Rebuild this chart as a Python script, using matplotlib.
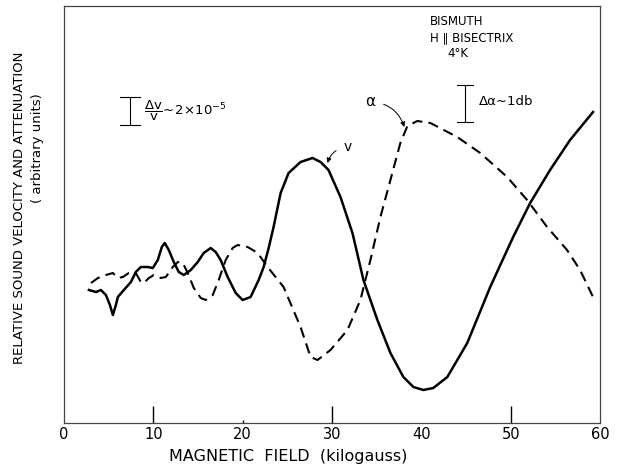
import numpy as np
import matplotlib.pyplot as plt

plt.rcParams["font.family"] = "DejaVu Sans"
plt.rcParams["mathtext.fontset"] = "dejavusans"

# velocity curve v (solid), field in kilogauss, arbitrary units
v_field = [2.79, 3.58, 4.13, 4.69, 5.14, 5.47, 5.81, 6.03, 6.70, 7.49, 8.04, 8.60,
           9.39, 9.94, 10.50, 10.95, 11.28, 11.73, 12.29, 12.85, 13.41, 14.19, 14.97,
           15.64, 16.42, 16.98, 17.54, 18.32, 19.22, 20.00, 20.89, 21.79, 22.35, 22.91,
           23.46, 24.25, 25.14, 26.48, 27.82, 28.72, 29.61, 30.95, 32.29, 33.52, 35.08,
           36.54, 37.99, 39.11, 40.22, 41.34, 42.91, 45.14, 47.71, 50.28, 52.18, 54.41,
           56.65, 59.22]
v_vals = [14.0, 13.8, 14.0, 13.5, 12.5, 11.5, 12.5, 13.3, 14.0, 14.8, 15.8, 16.3,
          16.3, 16.2, 17.0, 18.3, 18.7, 18.0, 16.8, 15.8, 15.5, 16.0, 16.8,
          17.7, 18.2, 17.8, 17.0, 15.3, 13.7, 13.0, 13.3, 15.0, 16.3, 18.2,
          20.3, 23.7, 25.7, 26.8, 27.2, 26.8, 26.0, 23.3, 19.7, 15.0, 11.0,
          7.7, 5.3, 4.3, 4.0, 4.2, 5.3, 8.7, 14.3, 19.3, 22.7, 26.0,
          29.0, 31.8]

# attenuation curve alpha (dashed)
a_field = [3.02, 3.80, 4.69, 5.47, 6.03, 6.59, 7.26, 8.04, 8.60, 8.94, 9.50, 10.06,
           10.84, 11.40, 12.18, 12.74, 13.30, 13.85, 14.53, 15.31, 15.87, 16.65, 17.32,
           18.10, 18.88, 19.44, 20.56, 21.68, 22.79, 24.58, 26.48, 27.60, 28.38, 29.83,
           31.73, 33.18, 34.30, 35.42, 36.54, 37.65, 38.44, 39.55, 41.01, 44.02, 46.59,
           49.61, 51.84, 54.08, 56.31, 57.77, 59.22]
a_vals = [14.7, 15.2, 15.5, 15.7, 15.2, 15.3, 15.7, 15.7, 14.8, 14.7, 15.2, 15.5,
          15.2, 15.3, 16.3, 16.8, 16.7, 15.7, 14.2, 13.2, 13.0, 13.5, 15.0,
          17.0, 18.2, 18.5, 18.3, 17.7, 16.3, 14.3, 10.3, 7.3, 7.0, 8.0,
          10.0, 13.0, 17.0, 21.3, 25.0, 28.7, 30.4, 30.9, 30.7, 29.3, 27.7,
          25.3, 23.0, 20.3, 18.0, 16.0, 13.3]

xticks = [0, 10, 20, 30, 40, 50, 60]


def main():
    fig = plt.figure(figsize=(6.18, 4.66), dpi=100)
    ax = fig.add_axes([64 / 618, 1 - 423 / 466, 536 / 618, 417 / 466])

    ax.plot(v_field, v_vals, color="black", lw=1.8, solid_joinstyle="round")
    ax.plot(a_field, a_vals, color="black", lw=1.5, dashes=(5, 3))

    ax.set_xlim(0, 60)
    ax.set_ylim(0.7, 42.4)
    ax.set_xticks(xticks)
    ax.set_xticklabels([str(t) for t in xticks], fontsize=10.5)
    ax.tick_params(axis="x", direction="in", length=12, width=1, pad=3)
    ticks = ax.xaxis.get_major_ticks()
    for i in (0, 4, 6):
        ticks[i].tick1line.set_visible(False)
    ticks[2].tick1line.set_markersize(2.5)
    ax.set_yticks([])
    for s in ax.spines.values():
        s.set_linewidth(0.9)
        s.set_color("#444444")

    fig.text(288 / 618, 1 - 456 / 466, "MAGNETIC  FIELD  (kilogauss)",
             ha="center", va="center", fontsize=11.5)
    fig.text(20 / 618, 1 - 208 / 466, "RELATIVE SOUND VELOCITY AND ATTENUATION",
             rotation=90, ha="center", va="center", fontsize=9.5)
    fig.text(37 / 618, 1 - 148 / 466, "( arbitrary units)",
             rotation=90, ha="center", va="center", fontsize=9.5)

    # sample description
    ax.text(41.0, 40.8, "BISMUTH", fontsize=8.5, va="center")
    ax.text(41.0, 39.2, "H \u2225 BISECTRIX", fontsize=8.5, va="center")
    ax.text(42.9, 37.6, "4\u00b0K", fontsize=8.5, va="center")

    # scale bars
    ax.plot([7.4, 7.4], [30.5, 33.3], color="black", lw=0.8)
    ax.plot([6.3, 8.5], [33.3, 33.3], color="black", lw=0.8)
    ax.plot([6.3, 8.5], [30.5, 30.5], color="black", lw=0.8)
    ax.text(9.0, 31.9, r"$\dfrac{\Delta\mathrm{v}}{\mathrm{v}}\!\sim\!2\!\times\!10^{-5}$",
            fontsize=9.5, va="center")

    ax.plot([44.9, 44.9], [30.8, 34.5], color="black", lw=0.8)
    ax.plot([44.0, 45.8], [34.5, 34.5], color="black", lw=0.8)
    ax.plot([44.0, 45.8], [30.8, 30.8], color="black", lw=0.8)
    ax.text(46.4, 32.8, "\u0394\u03b1\u223c1db", fontsize=9.5, va="center")

    # curve labels
    ax.annotate("\u03b1", xy=(38.1, 30.3), xytext=(34.3, 32.8), fontsize=11,
                ha="center", va="center",
                arrowprops=dict(arrowstyle="-|>", color="black", lw=0.7,
                                connectionstyle="arc3,rad=-0.35", shrinkA=4, shrinkB=0,
                                mutation_scale=7))
    ax.annotate("v", xy=(29.5, 26.7), xytext=(31.8, 28.3), fontsize=10,
                ha="center", va="center",
                arrowprops=dict(arrowstyle="-|>", color="black", lw=0.7,
                                connectionstyle="arc3,rad=0.35", shrinkA=4, shrinkB=0,
                                mutation_scale=7))

    fig.savefig("out.png", dpi=100)
    plt.close(fig)
    return 0


main()
